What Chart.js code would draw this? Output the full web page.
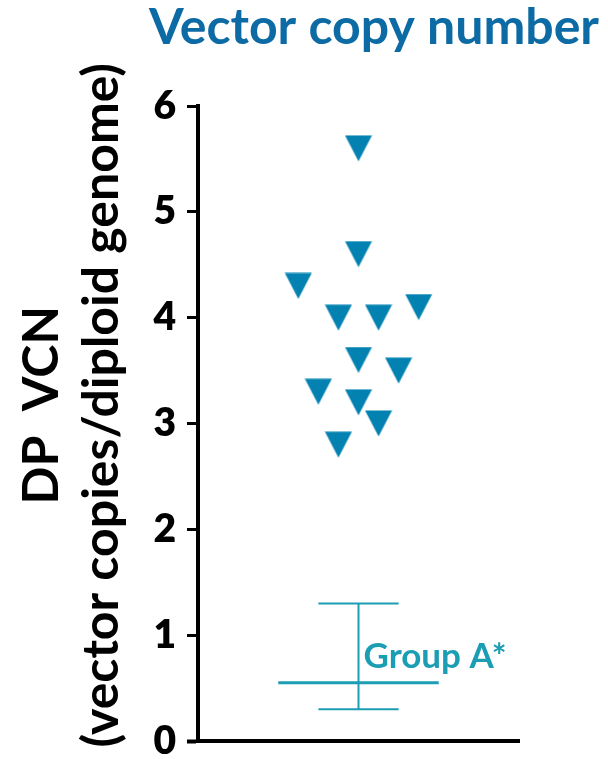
<!DOCTYPE html>
<html>
<head>
<meta charset="utf-8">
<title>Vector copy number</title>
<script src="https://cdn.jsdelivr.net/npm/chart.js@4/dist/chart.umd.min.js"></script>
<style>
  html, body { margin: 0; padding: 0; background: #ffffff; }
  #wrap { width: 608px; height: 759px; }
</style>
</head>
<body>
<div id="wrap"><canvas id="vcn" width="608" height="759"></canvas></div>
<script>
// Individual subjects: horizontal jitter slot and drug-product VCN
const subjectSlot = [0, 0, -3, -1, 1, 3, 0, 2, -2, 0, 1, -1];
const subjectVCN  = [5.6, 4.6, 4.3, 4.0, 4.0, 4.1, 3.6, 3.5, 3.3, 3.2, 3.0, 2.8];

// Comparison group summary (mean with range)
const groupName = 'Group A*';
const groupMean = [0.55];
const groupLow  = [0.3];
const groupHigh = [1.3];

// Axis ticks and titles
const yTicks = [0, 1, 2, 3, 4, 5, 6];
const yTitleLines = ['   DP  VCN', '   (vector copies/diploid genome)'];
const chartTitle = 'Vector copy number';

const POINT_BLUE = '#0381b1';
const TITLE_BLUE = '#0c6aa4';
const GROUP_TEAL = '#1b9db3';
const FONT = 'Lato, "Open Sans", "DejaVu Sans", sans-serif';

// Downward triangle marker
function makeTriangle(w, h, color) {
  const c = document.createElement('canvas');
  c.width = w; c.height = h;
  const g = c.getContext('2d');
  g.fillStyle = color;
  g.beginPath();
  g.moveTo(0.5, 0.5);
  g.lineTo(w - 0.5, 0.5);
  g.lineTo(w / 2, h - 0.5);
  g.closePath();
  g.fill();
  return c;
}

function seg(x1, y1, x2, y2) { return [{ x: x1, y: y1 }, { x: x2, y: y2 }]; }

// Text label next to the group's whisker
const groupLabel = {
  id: 'groupLabel',
  afterDatasetsDraw(chart) {
    const { ctx, scales } = chart;
    const x = scales.x.getPixelForValue(0) + 5;
    const y = scales.y.getPixelForValue(groupMean[0]) - 15;
    ctx.save();
    ctx.font = 'bold 35px ' + FONT;
    ctx.fillStyle = GROUP_TEAL;
    ctx.textAlign = 'left';
    ctx.textBaseline = 'alphabetic';
    ctx.fillText(groupName, x, y);
    ctx.restore();
  }
};

function build() {
  const tri = makeTriangle(28, 27, POINT_BLUE);
  const m = groupMean[0], lo = groupLow[0], hi = groupHigh[0];
  const lineDs = (data, w) => ({
    type: 'scatter', data, showLine: true, borderColor: GROUP_TEAL,
    borderWidth: w, pointRadius: 0, pointHoverRadius: 0, fill: false, order: 2
  });

  new Chart(document.getElementById('vcn'), {
    type: 'scatter',
    data: {
      datasets: [
        {
          label: 'DP VCN',
          data: subjectVCN.map((v, i) => ({ x: subjectSlot[i], y: v })),
          pointStyle: tri,
          pointRadius: 14,
          order: 1
        },
        lineDs(seg(-4, m, 4, m), 3),
        lineDs(seg(-2, hi, 2, hi), 2),
        lineDs(seg(-2, lo, 2, lo), 2),
        lineDs(seg(0, lo, 0, hi), 2)
      ]
    },
    options: {
      responsive: false,
      animation: false,
      devicePixelRatio: 1,
      layout: { padding: { left: 0, right: 9, top: 0, bottom: 18 } },
      plugins: {
        legend: { display: false },
        tooltip: { enabled: false },
        title: {
          display: true,
          text: chartTitle,
          align: 'end',
          color: TITLE_BLUE,
          font: { family: FONT, size: 50, weight: 'bold', lineHeight: 1.1 },
          padding: { top: 0, bottom: 51 }
        }
      },
      scales: {
        x: {
          type: 'linear',
          min: -8, max: 8,
          ticks: { display: false },
          grid: { display: false },
          border: { display: true, color: '#000', width: 4 },
          afterFit(s) { s.height = 0; }
        },
        y: {
          type: 'linear',
          position: 'left',
          min: 0, max: 6,
          afterBuildTicks(s) { s.ticks = yTicks.map(v => ({ value: v })); },
          ticks: {
            color: '#000',
            padding: 11,
            font: { family: FONT, size: 39, weight: '800', lineHeight: 1 }
          },
          grid: {
            drawOnChartArea: false,
            drawTicks: true,
            tickLength: 11,
            tickColor: '#000',
            tickWidth: c => (c.tick && c.tick.value === 0 ? 4 : 3)
          },
          border: { display: true, color: '#000', width: 4 },
          title: {
            display: true,
            text: yTitleLines,
            color: '#000',
            font: { family: FONT, size: 50, weight: 'bold', lineHeight: 1.2 },
            padding: { top: 12, bottom: 0 }
          },
          afterFit(s) {
            s.width = 198;
            s.paddingTop = 0;
            s.paddingBottom = 0;
          }
        },
        spacer: {
          type: 'linear',
          position: 'right',
          min: 0, max: 1,
          ticks: { display: false },
          grid: { display: false },
          border: { display: false },
          afterFit(s) { s.width = 80; }
        }
      }
    },
    plugins: [groupLabel]
  });
}

const ready = (document.fonts && document.fonts.load)
  ? Promise.all([
      document.fonts.load('bold 40px Lato'),
      document.fonts.load('800 40px Lato')
    ]).catch(() => {})
  : Promise.resolve();
ready.then(build);
</script>
</body>
</html>
